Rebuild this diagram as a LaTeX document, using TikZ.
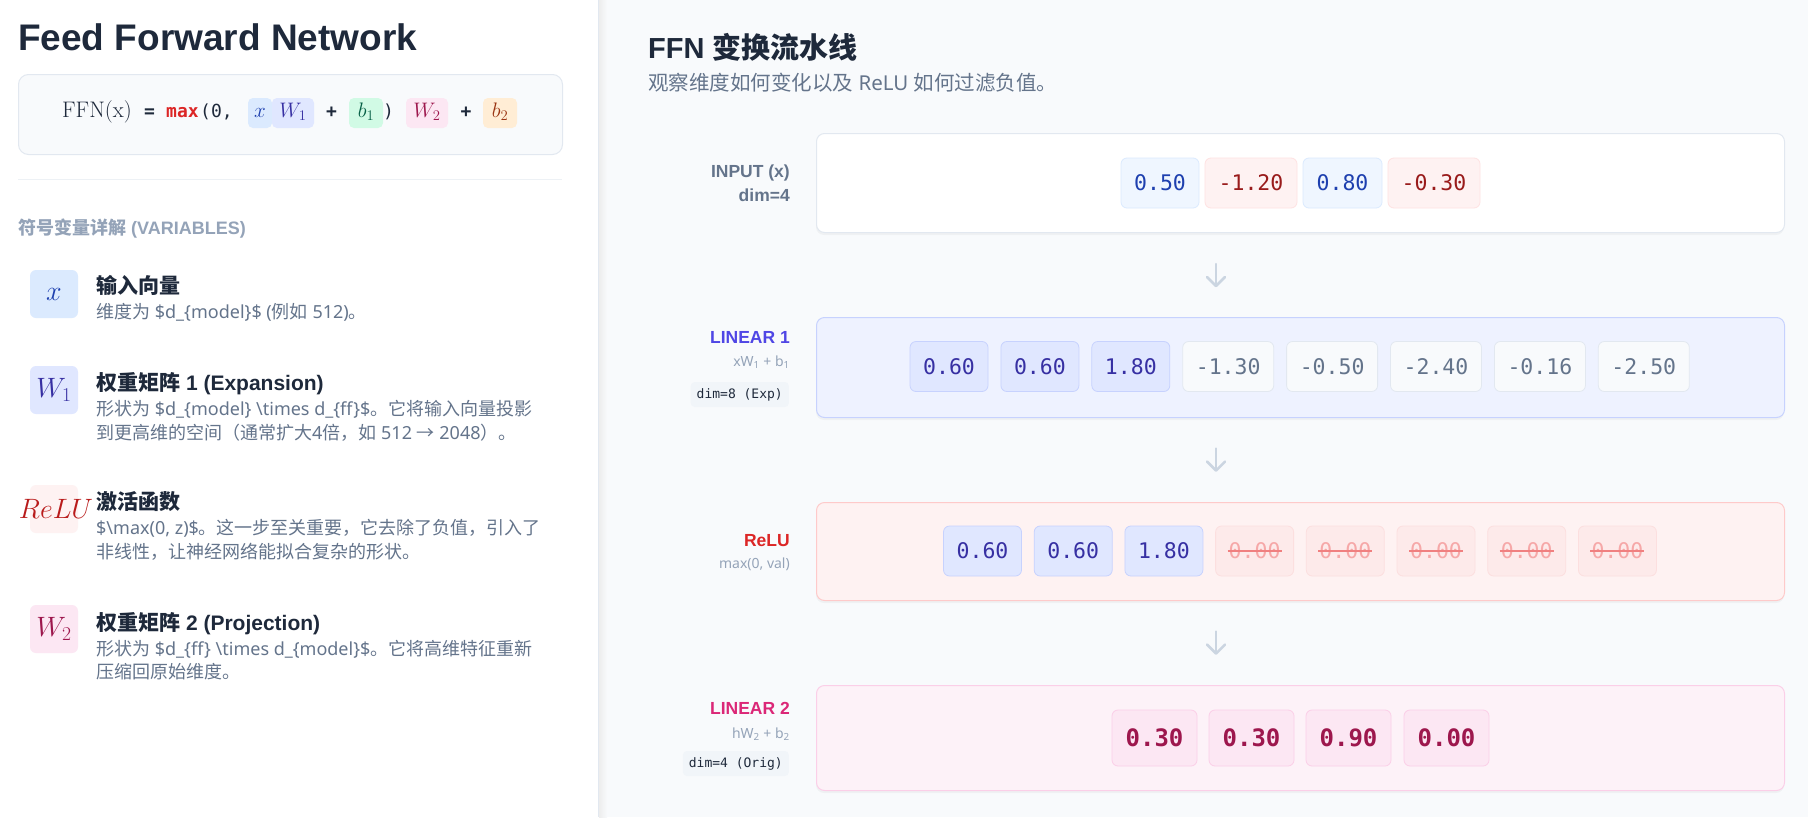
\RequirePackage{fix-cm}
\documentclass[tikz,border=0pt]{standalone}
\usepackage{fontspec}
\newfontfamily\enfont{Noto Sans}
\newfontfamily\enbf{Liberation Sans}
\newfontfamily\zhfont{Noto Sans CJK SC}
\newfontfamily\monofont{DejaVu Sans Mono}
\newcommand\zh[1]{{\zhfont #1}}
\newcommand\fs[1]{\fontsize{#1}{#1}\selectfont}
\definecolor{slate800}{HTML}{1E293B}
\definecolor{slate700}{HTML}{334155}
\definecolor{slate500}{HTML}{64748B}
\definecolor{slate400}{HTML}{94A3B8}
\definecolor{slate300}{HTML}{CBD5E1}
\definecolor{slate200}{HTML}{E2E8F0}
\definecolor{slate100}{HTML}{F1F5F9}
\definecolor{slate50}{HTML}{F8FAFC}
\definecolor{blue50}{HTML}{EFF6FF}
\definecolor{blue100}{HTML}{DBEAFE}
\definecolor{blue800}{HTML}{1E40AF}
\definecolor{red50}{HTML}{FEF2F2}
\definecolor{red100}{HTML}{FEE2E2}
\definecolor{red200}{HTML}{FECACA}
\definecolor{red600}{HTML}{DC2626}
\definecolor{red700}{HTML}{B91C1C}
\definecolor{red800}{HTML}{991B1B}
\definecolor{zerofill}{HTML}{FDEAEA}
\definecolor{zerodraw}{HTML}{FCDFDF}
\definecolor{zerotext}{HTML}{F6A8A8}
\definecolor{zerostrike}{HTML}{F08080}
\definecolor{indigo50}{HTML}{EEF2FF}
\definecolor{indigo100}{HTML}{E0E7FF}
\definecolor{indigo200}{HTML}{C7D2FE}
\definecolor{indigo600}{HTML}{4F46E5}
\definecolor{indigo800}{HTML}{3730A3}
\definecolor{pink50}{HTML}{FDF2F8}
\definecolor{pink100}{HTML}{FCE7F3}
\definecolor{pink200}{HTML}{FBCFE8}
\definecolor{pink600}{HTML}{DB2777}
\definecolor{pink800}{HTML}{9D174D}
\definecolor{emerald100}{HTML}{D1FAE5}
\definecolor{emerald800}{HTML}{065F46}
\definecolor{orange100}{HTML}{FFEDD5}
\definecolor{orange800}{HTML}{9A3412}
\definecolor{sepline}{HTML}{EDF1F5}
\begin{document}
\begin{tikzpicture}[x=1pt,y=-1pt,
  txt/.style={inner sep=0pt, anchor=base west},
  rtxt/.style={inner sep=0pt, anchor=base east},
  ftxt/.style={inner sep=0pt, text height=14pt, text depth=5pt, anchor=west},
  fchip/.style={inner sep=0pt, text height=14pt, text depth=5pt, minimum height=30pt, rounded corners=5pt, font=\fs{21}},
  schip/.style={minimum width=48pt, minimum height=48pt, rounded corners=6pt, inner sep=0pt},
  sym/.style={inner sep=0pt, font=\fs{28}},
  ititle/.style={txt, font={\enbf\bfseries\fs{21}}, text=slate800},
  idesc/.style={txt, font={\enfont\fs{18}}, text=slate500},
  rowbox/.style={anchor=north west, minimum width=968pt, rounded corners=8pt, line width=1pt, inner sep=0pt},
  cell/.style={rounded corners=6pt, line width=0.8pt, minimum height=50pt, inner sep=0pt, font={\monofont\fs{21.5}}},
  posA/.style={cell, fill=blue50, draw=blue100, text=blue800},
  negA/.style={cell, fill=red50, draw=red100, text=red800},
  posB/.style={cell, fill=indigo100, draw=indigo200, text=indigo800},
  negB/.style={cell, fill=slate50, draw=slate200, text=slate500},
  zeroC/.style={cell, fill=zerofill, draw=zerodraw, text=zerotext},
  outC/.style={cell, fill=pink100, draw=pink200, text=pink800, minimum height=56pt, minimum width=85pt, font={\monofont\bfseries\fs{24}}},
  lblA/.style={rtxt, font={\enbf\bfseries\fs{17.5}}},
  lblB/.style={rtxt, font={\enfont\fs{14}}, text=slate400},
  badge/.style={anchor=east, fill=slate100, rounded corners=4pt, inner xsep=6pt, inner ysep=0pt, minimum height=25pt, font={\monofont\fs{13}}, text=slate800},
  flow/.style={draw=slate300, line width=2.5pt, line cap=round, line join=round}
]
\useasboundingbox (0,0) rectangle (1808,817);
% backgrounds
\fill[slate50] (0,0) rectangle (1808,817);
\fill[white] (0,0) rectangle (598,817);
\shade[left color=black!7, right color=slate50] (599,0) rectangle (607,817);
\draw[slate200, line width=1pt] (598.5,0) -- (598.5,817);

% ---------- left panel ----------
\node[txt, font={\enbf\bfseries\fs{37}}, text=slate800] (title) at (18,50) {Feed Forward Network};
\node[anchor=north west, draw=slate200, fill=slate50, rounded corners=10pt, line width=1pt, minimum width=544pt, minimum height=80pt, inner sep=0pt] (fbox) at (18,74) {};

\node[ftxt, font=\fs{22.5}, text=slate800] (ffn) at (62,113) {FFN(x)};
\node[ftxt, anchor=center, font={\monofont\bfseries\fs{18}}, text=slate800] (eq) at (149.5,113) {=};
\node[ftxt, font={\monofont\bfseries\fs{18}}, text=red600] (mx) at (166,113) {max};
\node[ftxt, font={\monofont\fs{18}}, text=slate800] (op) at (200,113) {(0,};
\node[fchip, fill=blue100, minimum width=24pt, text=blue800] (cx) at (260,113) {$x$};
\node[fchip, fill=indigo100, minimum width=42pt, text=indigo800] (cw1) at (293,113) {$W_1$};
\node[ftxt, anchor=center, font={\monofont\bfseries\fs{18}}, text=slate800] (pl1) at (331.5,113) {+};
\node[fchip, fill=emerald100, minimum width=34pt, text=emerald800] (cb1) at (366,113) {$b_1$};
\node[ftxt, anchor=center, font={\monofont\fs{18}}, text=slate800] (cp) at (388.5,113) {)};
\node[fchip, fill=pink100, minimum width=42pt, text=pink800] (cw2) at (427,113) {$W_2$};
\node[ftxt, anchor=center, font={\monofont\bfseries\fs{18}}, text=slate800] (pl2) at (466,113) {+};
\node[fchip, fill=orange100, minimum width=34pt, text=orange800] (cb2) at (500,113) {$b_2$};

\draw[sepline, line width=1pt] (18,179) -- (562,179);

\node[txt, font={\enbf\bfseries\fs{18}}, text=slate400] (varh) at (18,234) {\zh{符号变量详解} (VARIABLES)};

% item 1
\node[schip, fill=blue100] (s1) at (54,294) {};
\node[sym, text=blue800] (s1t) at (s1.center) {$x$};
\node[ititle] (t1) at (96,293) {\zh{输入向量}};
\node[idesc] (d1) at (96,318.5) {\zh{维度为} \$d\_\{model\}\$ (\zh{例如} 512)\zh{。}};
% item 2
\node[schip, fill=indigo100] (s2) at (54,390) {};
\node[sym, text=indigo800] (s2t) at (s2.center) {$W_1$};
\node[ititle] (t2) at (96,390) {\zh{权重矩阵} 1 (Expansion)};
\node[idesc] (d2a) at (96,415.5) {\zh{形状为} \$d\_\{model\} \textbackslash{}times d\_\{ff\}\$\zh{。它将输入向量投影}};
\node[idesc] (d2b) at (96,439) {\zh{到更高维的空间（通常扩大}4\zh{倍，如} 512 \zh{→} 2048\zh{）。}};
% item 3
\node[schip, fill=red50] (s3) at (54,509) {};
\node[sym, text=red700] (s3t) at (56,509) {$ReLU$};
\node[ititle] (t3) at (96,509) {\zh{激活函数}};
\node[idesc] (d3a) at (96,534) {\$\textbackslash{}max(0, z)\$\zh{。这一步至关重要，它去除了负值，引入了}};
\node[idesc] (d3b) at (96,558.5) {\zh{非线性，让神经网络能拟合复杂的形状。}};
% item 4
\node[schip, fill=pink100] (s4) at (54,629) {};
\node[sym, text=pink800] (s4t) at (s4.center) {$W_2$};
\node[ititle] (t4) at (96,630) {\zh{权重矩阵} 2 (Projection)};
\node[idesc] (d4a) at (96,655) {\zh{形状为} \$d\_\{ff\} \textbackslash{}times d\_\{model\}\$\zh{。它将高维特征重新}};
\node[idesc] (d4b) at (96,678.5) {\zh{压缩回原始维度。}};

% ---------- right panel ----------
\node[txt, font={\enbf\bfseries\fs{29}}, text=slate800] (rtitle) at (648,58) {FFN \zh{变换流水线}};
\node[txt, font={\enfont\fs{20.5}}, text=slate500] (rsub) at (648,90) {\zh{观察维度如何变化以及} ReLU \zh{如何过滤负值。}};

% shadows
\foreach \ya/\h in {133/99, 317/100, 502/98, 685/105}{
  \fill[black, opacity=0.035, rounded corners=8pt] (816,\ya+2) rectangle ++(968,\h+1);
}
% row boxes
\node[rowbox, fill=white, draw=slate200, minimum height=99pt] (row1) at (816,133) {};
\node[rowbox, fill=indigo50, draw=indigo200, minimum height=100pt] (row2) at (816,317) {};
\node[rowbox, fill=red50, draw=red200, minimum height=98pt] (row3) at (816,502) {};
\node[rowbox, fill=pink50, draw=pink200, minimum height=105pt] (row4) at (816,685) {};

% labels
\node[lblA, text=slate500] (l1a) at (790,177) {INPUT (x)};
\node[lblA, text=slate500] (l1b) at (790,201) {dim=4};
\node[lblA, text=indigo600] (l2a) at (790,343) {LINEAR 1};
\node[lblB] (l2b) at (790,366) {xW\textsubscript{1} + b\textsubscript{1}};
\node[badge] (bd2) at (789,394.5) {dim=8 (Exp)};
\node[lblA, text=red600] (l3a) at (790,546) {ReLU};
\node[lblB] (l3b) at (790,568) {max(0, val)};
\node[lblA, text=pink600] (l4a) at (790,714) {LINEAR 2};
\node[lblB] (l4b) at (790,738) {hW\textsubscript{2} + b\textsubscript{2}};
\node[badge] (bd4) at (789,763.5) {dim=4 (Orig)};

% row 1 cells
\node[posA, minimum width=78pt] (a1) at (1160,183) {0.50};
\node[negA, minimum width=92pt] (a2) at (1251,183) {-1.20};
\node[posA, minimum width=79pt] (a3) at (1342.5,183) {0.80};
\node[negA, minimum width=92pt] (a4) at (1434,183) {-0.30};

% row 2 cells
\node[posB, minimum width=78pt] (b1) at (949,366.5) {0.60};
\node[posB, minimum width=78pt] (b2) at (1039.9,366.5) {0.60};
\node[posB, minimum width=78pt] (b3) at (1130.8,366.5) {1.80};
\node[negB, minimum width=91pt] (b4) at (1228.2,366.5) {-1.30};
\node[negB, minimum width=91pt] (b5) at (1332.1,366.5) {-0.50};
\node[negB, minimum width=91pt] (b6) at (1436,366.5) {-2.40};
\node[negB, minimum width=91pt] (b7) at (1539.9,366.5) {-0.16};
\node[negB, minimum width=91pt] (b8) at (1643.8,366.5) {-2.50};

% row 3 cells
\node[posB, minimum width=78pt] (r1) at (982.5,551) {0.60};
\node[posB, minimum width=78pt] (r2) at (1073.2,551) {0.60};
\node[posB, minimum width=78pt] (r3) at (1163.9,551) {1.80};
\foreach \i/\x in {4/1254.6, 5/1345.3, 6/1436, 7/1526.7, 8/1617.4}{
  \node[zeroC, minimum width=78pt] (r\i) at (\x,551) {0.00};
  \draw[zerostrike, line width=2pt] ([xshift=-27pt]r\i.center) -- ([xshift=27pt]r\i.center);
}

% row 4 cells
\node[outC] (o1) at (1154.5,738) {0.30};
\node[outC] (o2) at (1251.5,738) {0.30};
\node[outC] (o3) at (1348.5,738) {0.90};
\node[outC] (o4) at (1446.5,738) {0.00};

% flow arrows
\foreach \n/\y in {1/275, 2/459.5, 3/642.5}{
  \coordinate (ft\n) at (1216,\y-11);
  \coordinate (fb\n) at (1216,\y+11);
  \draw[flow] (ft\n) -- (fb\n);
  \draw[flow] ([xshift=-9pt, yshift=9pt]fb\n) -- (fb\n) -- ([xshift=9pt, yshift=9pt]fb\n);
}
\end{tikzpicture}
\end{document}
